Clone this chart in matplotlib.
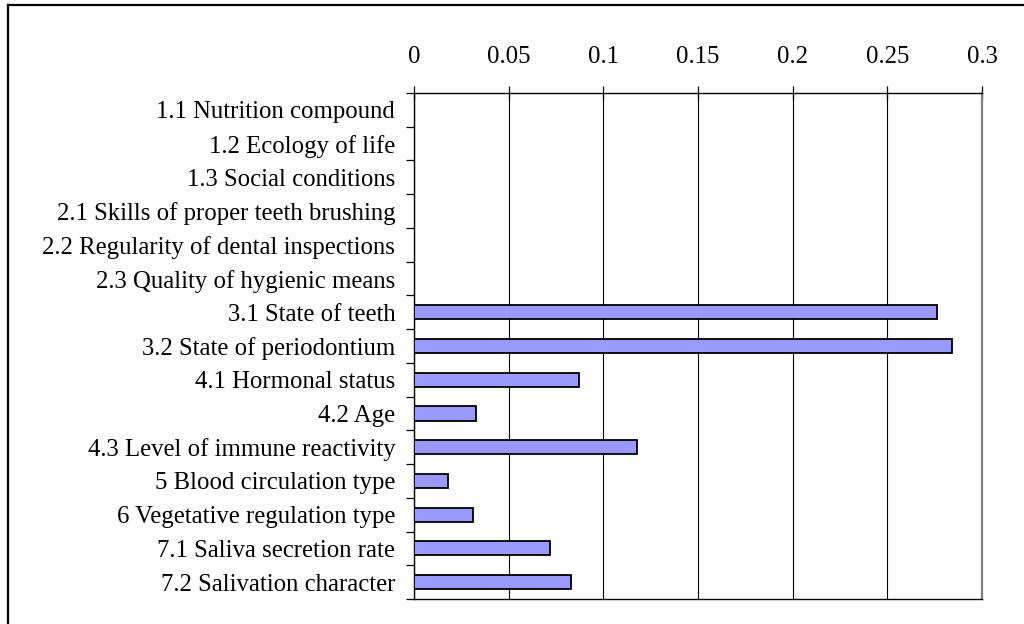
import matplotlib
matplotlib.use("Agg")
import matplotlib.pyplot as plt
from matplotlib.lines import Line2D

categories = [
    "1.1 Nutrition compound",
    "1.2 Ecology of life",
    "1.3 Social conditions",
    "2.1 Skills of proper teeth brushing",
    "2.2 Regularity of dental inspections",
    "2.3 Quality of hygienic means",
    "3.1 State of teeth",
    "3.2 State of periodontium",
    "4.1 Hormonal status",
    "4.2 Age",
    "4.3 Level of immune reactivity",
    "5 Blood circulation type",
    "6 Vegetative regulation type",
    "7.1 Saliva secretion rate",
    "7.2 Salivation character",
]
values = [0, 0, 0, 0, 0, 0, 0.276, 0.284, 0.087, 0.033, 0.118, 0.018, 0.031, 0.072, 0.083]
xticks = [0, 0.05, 0.1, 0.15, 0.2, 0.25, 0.3]
xticklabels = ["0", "0.05", "0.1", "0.15", "0.2", "0.25", "0.3"]

plt.rcParams['font.family'] = ['Liberation Serif', 'DejaVu Serif']

W, H = 1024, 624
fig = plt.figure(figsize=(W/100, H/100), dpi=100)
ax = fig.add_axes([414/W, 1 - 599/H, (982-414)/W, (599-93)/H])

n = len(categories)
ypos = list(range(n))
ax.barh(ypos, values, height=0.42, color="#9999FF", edgecolor="black", linewidth=1.3, zorder=3)

ax.set_ylim(n - 0.5, -0.5)
ax.set_xlim(0, 0.3)
ax.xaxis.tick_top()
ax.set_xticks(xticks)
ax.set_xticklabels(xticklabels, fontsize=17.8)
ax.tick_params(axis='x', direction='inout', length=10, width=0.9, pad=13)

ax.set_yticks([i - 0.5 for i in range(n + 1)])
ax.set_yticklabels([])
ax.set_yticks(ypos, minor=True)
ax.set_yticklabels(categories, minor=True, fontsize=17.8)
ax.tick_params(axis='y', which='major', direction='out', length=6, width=0.9)
ax.tick_params(axis='y', which='minor', length=0, pad=13.5)

ax.grid(axis='x', color='black', linewidth=0.8, zorder=0)
for s in ['left', 'top', 'bottom']:
    ax.spines[s].set_color('black')
    ax.spines[s].set_linewidth(1.0)
ax.spines['right'].set_color('#808080')
ax.spines['right'].set_linewidth(1.6)

# outer frame of the chart area
x0, y0 = 8 / W, 1 - 5 / H
fig.add_artist(Line2D([x0, 1.0], [y0, y0], transform=fig.transFigure, color='black', linewidth=1.6))
fig.add_artist(Line2D([x0, x0], [y0, 0.0], transform=fig.transFigure, color='black', linewidth=1.6))

fig.savefig("out.png", dpi=100)
